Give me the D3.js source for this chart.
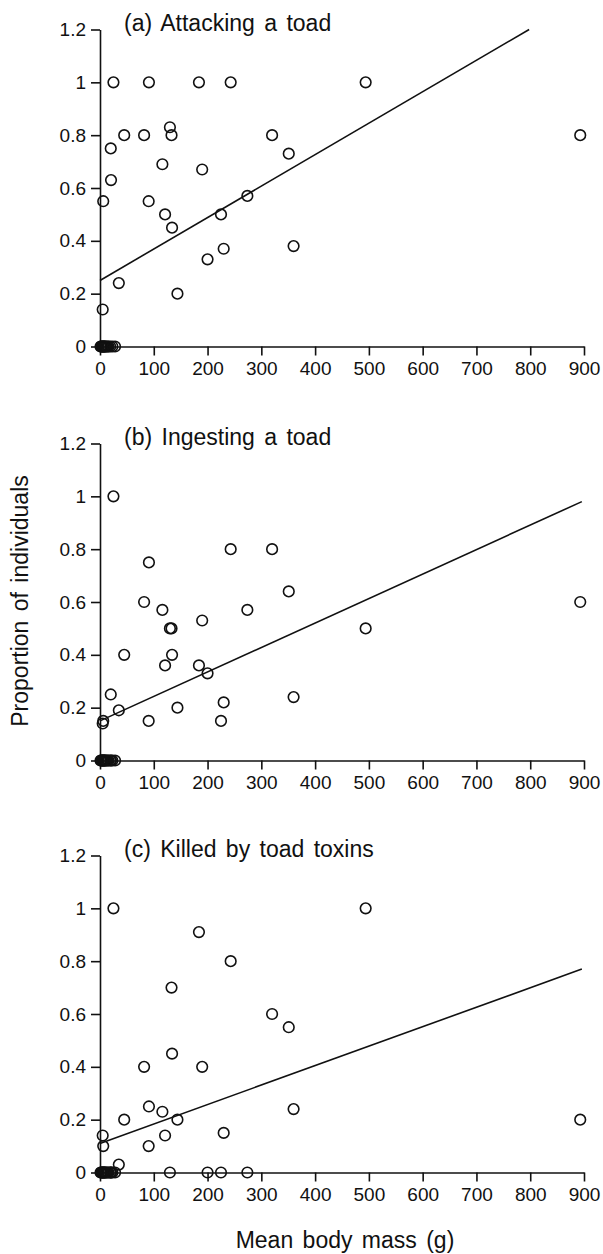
<!DOCTYPE html>
<html lang="en">
<head>
    <meta charset="UTF-8">
    <script src="https://d3js.org/d3.v7.min.js"></script>
    <style>
        body { margin: 0; background: #fff; }
        svg text { font-family: "Liberation Sans", Arial, Helvetica, sans-serif; fill: #111; }
        .axis path, .axis line { stroke: #111; stroke-width: 1.6px; }
        .axis text { font-size: 19px; }
        .title, .label { font-size: 23px; word-spacing: 3px; }
    </style>
</head>
<body>
<svg width="603" height="1254" id="chart"></svg>
<script>
// species mean body mass (g), one entry per species
const bodyMass = [1, 2, 3, 4, 5, 6, 7, 8, 9, 10, 12, 14, 16, 19, 23, 28,
    5, 6, 20, 20.5, 25, 35, 45, 82, 90.5, 91, 116, 121, 130, 133, 134, 144,
    184, 190, 200, 225, 230, 243, 274, 320, 351, 360, 494, 893];

// proportion of individuals, same order as bodyMass
const attacking = [0, 0, 0, 0, 0, 0, 0, 0, 0, 0, 0, 0, 0, 0, 0, 0,
    0.14, 0.55, 0.75, 0.63, 1.0, 0.24, 0.8, 0.8, 0.55, 1.0, 0.69, 0.5, 0.83, 0.8, 0.45, 0.2,
    1.0, 0.67, 0.33, 0.5, 0.37, 1.0, 0.57, 0.8, 0.73, 0.38, 1.0, 0.8];
const ingesting = [0, 0, 0, 0, 0, 0, 0, 0, 0, 0, 0, 0, 0, 0, 0, 0,
    0.14, 0.15, 0.25, 0, 1.0, 0.19, 0.4, 0.6, 0.15, 0.75, 0.57, 0.36, 0.5, 0.5, 0.4, 0.2,
    0.36, 0.53, 0.33, 0.15, 0.22, 0.8, 0.57, 0.8, 0.64, 0.24, 0.5, 0.6];
const killed = [0, 0, 0, 0, 0, 0, 0, 0, 0, 0, 0, 0, 0, 0, 0, 0,
    0.14, 0.1, 0, 0, 1.0, 0.03, 0.2, 0.4, 0.1, 0.25, 0.23, 0.14, 0, 0.7, 0.45, 0.2,
    0.91, 0.4, 0, 0, 0.15, 0.8, 0, 0.6, 0.55, 0.24, 1.0, 0.2];

// fitted lines, [mass, proportion] at both ends
const fitAttacking = [[0, 0.25], [798, 1.2]];
const fitIngesting = [[0, 0.15], [896, 0.98]];
const fitKilled = [[0, 0.11], [896, 0.77]];

const titles = ["(a) Attacking a toad", "(b) Ingesting a toad", "(c) Killed by toad toxins"];
const xTicks = [0, 100, 200, 300, 400, 500, 600, 700, 800, 900];
const yTicks = [0, 0.2, 0.4, 0.6, 0.8, 1, 1.2];

const panels = [
    { title: titles[0], values: attacking, fit: fitAttacking },
    { title: titles[1], values: ingesting, fit: fitIngesting },
    { title: titles[2], values: killed, fit: fitKilled }
];

const svg = d3.select("#chart");
const panelTop = [29.5, 443.5, 855.5];
const panelHeight = 317;

const xScale = d3.scaleLinear().domain([0, 900]).range([100, 584]);

panels.forEach(function(p, i) {
    const top = panelTop[i];
    const yScale = d3.scaleLinear().domain([0, 1.2]).range([top + panelHeight, top]);

    // x axis
    svg.append("g")
        .attr("class", "axis")
        .attr("transform", "translate(0," + (top + panelHeight) + ")")
        .call(d3.axisBottom(xScale).tickValues(xTicks).tickSize(9).tickSizeOuter(0).tickPadding(6));

    // y axis
    svg.append("g")
        .attr("class", "axis")
        .attr("transform", "translate(" + xScale(0) + ",0)")
        .call(d3.axisLeft(yScale).tickValues(yTicks).tickFormat(d3.format("~g"))
            .tickSize(9).tickSizeOuter(0).tickPadding(5));

    svg.selectAll(".axis").attr("font-size", null).attr("font-family", null);

    // fitted line
    svg.append("path")
        .datum(p.fit)
        .attr("d", d3.line().x(d => xScale(d[0])).y(d => yScale(d[1])))
        .attr("fill", "none")
        .attr("stroke", "#111")
        .attr("stroke-width", 1.6);

    // points
    svg.append("g").selectAll("circle")
        .data(bodyMass.map((m, j) => [m, p.values[j]]))
        .enter().append("circle")
        .attr("cx", d => xScale(d[0]))
        .attr("cy", d => yScale(d[1]))
        .attr("r", 5.3)
        .attr("fill", "none")
        .attr("stroke", "#111")
        .attr("stroke-width", 1.6);

    // panel title
    svg.append("text")
        .attr("class", "title")
        .attr("x", 124)
        .attr("y", yScale(1.2) + 1)
        .text(p.title);
});

// axis labels
svg.append("text")
    .attr("class", "label")
    .attr("transform", "translate(28," + 601 + ") rotate(-90)")
    .style("text-anchor", "middle")
    .text("Proportion of individuals");

svg.append("text")
    .attr("class", "label")
    .attr("x", 345)
    .attr("y", 1248)
    .style("text-anchor", "middle")
    .text("Mean body mass (g)");
</script>
</body>
</html>
